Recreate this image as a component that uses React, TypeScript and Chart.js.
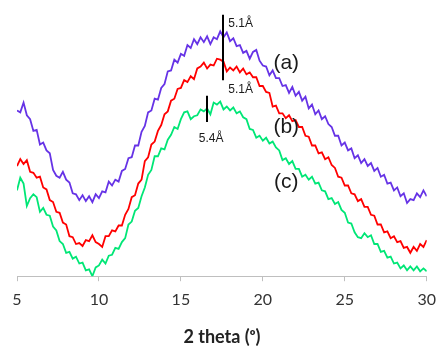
import { useEffect, useRef } from 'react';
import { Chart, registerables } from 'chart.js';

Chart.register(...registerables);

// 2θ sampling positions (degrees)
const twoTheta = [
  5, 5.2, 5.4, 5.6, 5.8, 6, 6.2, 6.4, 6.6, 6.8,
  7, 7.2, 7.4, 7.6, 7.8, 8, 8.2, 8.4, 8.6, 8.8,
  9, 9.2, 9.4, 9.6, 9.8, 10, 10.2, 10.4, 10.6, 10.8,
  11, 11.2, 11.4, 11.6, 11.8, 12, 12.2, 12.4, 12.6, 12.8,
  13, 13.2, 13.4, 13.6, 13.8, 14, 14.2, 14.4, 14.6, 14.8,
  15, 15.2, 15.4, 15.6, 15.8, 16, 16.2, 16.4, 16.6, 16.8,
  17, 17.2, 17.4, 17.6, 17.8, 18, 18.2, 18.4, 18.6, 18.8,
  19, 19.2, 19.4, 19.6, 19.8, 20, 20.2, 20.4, 20.6, 20.8,
  21, 21.2, 21.4, 21.6, 21.8, 22, 22.2, 22.4, 22.6, 22.8,
  23, 23.2, 23.4, 23.6, 23.8, 24, 24.2, 24.4, 24.6, 24.8,
  25, 25.2, 25.4, 25.6, 25.8, 26, 26.2, 26.4, 26.6, 26.8,
  27, 27.2, 27.4, 27.6, 27.8, 28, 28.2, 28.4, 28.6, 28.8,
  29, 29.2, 29.4, 29.6, 29.8, 30,
];

// Intensities (arbitrary units), curve (a) purple
const seriesA = [
  170, 168, 178, 165, 161, 149, 150, 135, 137, 129,
  126, 109, 103, 101, 107, 99, 96, 85, 84, 78,
  83, 77, 82, 76, 84, 80, 87, 86, 97, 93,
  99, 97, 108, 110, 121, 122, 134, 134, 148, 154,
  168, 170, 182, 181, 193, 197, 210, 211, 222, 219,
  228, 226, 237, 234, 243, 238, 245, 240, 246, 238,
  245, 243, 251, 245, 250, 241, 244, 236, 237, 229,
  231, 223, 230, 232, 221, 216, 215, 206, 211, 203,
  203, 195, 196, 188, 194, 185, 189, 180, 184, 172,
  176, 166, 170, 161, 164, 156, 153, 144, 144, 134,
  137, 129, 131, 121, 124, 116, 120, 113, 116, 108,
  111, 102, 104, 95, 96, 88, 91, 82, 85, 75,
  79, 78, 85, 81, 88, 82,
];

// curve (b) red
const seriesB = [
  113, 120, 115, 119, 107, 106, 101, 102, 91, 89,
  78, 76, 66, 65, 55, 53, 41, 40, 33, 34,
  31, 37, 36, 42, 35, 33, 30, 41, 41, 47,
  46, 52, 52, 63, 69, 81, 83, 95, 99, 118,
  122, 135, 138, 149, 155, 166, 169, 180, 182, 192,
  193, 201, 199, 205, 202, 213, 215, 219, 213, 217,
  216, 223, 222, 220, 210, 214, 211, 215, 209, 213,
  207, 209, 204, 204, 195, 195, 189, 188, 174, 175,
  167, 167, 162, 165, 159, 160, 153, 153, 144, 143,
  134, 134, 126, 127, 120, 122, 114, 111, 102, 101,
  93, 93, 85, 84, 77, 79, 71, 71, 63, 62,
  53, 53, 45, 46, 39, 41, 35, 36, 29, 30,
  24, 30, 26, 33, 30, 37,
];

// curve (c) green
const seriesC = [
  88, 101, 95, 72, 80, 84, 81, 66, 70, 63,
  62, 51, 47, 36, 33, 24, 25, 18, 20, 13,
  14, 6, 7, 0, 9, 11, 17, 13, 21, 22,
  29, 28, 35, 39, 53, 56, 67, 70, 82, 91,
  104, 109, 123, 123, 131, 130, 140, 145, 153, 151,
  161, 168, 169, 161, 164, 165, 171, 169, 172, 166,
  178, 176, 179, 171, 174, 170, 173, 167, 169, 163,
  161, 151, 150, 142, 144, 139, 142, 136, 138, 132,
  129, 119, 121, 115, 118, 110, 110, 102, 104, 99,
  102, 95, 96, 88, 87, 79, 80, 74, 76, 68,
  65, 55, 54, 45, 40, 39, 44, 40, 42, 33,
  33, 25, 26, 19, 20, 13, 14, 8, 11, 6,
  10, 6, 10, 5, 8, 5,
];

const xTicks = [5, 10, 15, 20, 25, 30];

// Peak marker bars: [2θ, top intensity, bottom intensity]
const peakMarkers = [
  { x: 17.6, top: 268, bottom: 201 },
  { x: 16.57, top: 185, bottom: 158 },
];

// d-spacing labels (left-anchored)
const spacingLabels = [
  { text: '5.1Å', x: 17.89, y: 259 },
  { text: '5.1Å', x: 17.89, y: 191 },
  { text: '5.4Å', x: 16.09, y: 141 },
];

// curve identifiers (centred)
const curveLabels = [
  { text: '(a)', x: 21.43, y: 218 },
  { text: '(b)', x: 21.43, y: 153 },
  { text: '(c)', x: 21.43, y: 96 },
];

const annotationPlugin = {
  id: 'xrdAnnotations',
  afterDatasetsDraw(chart: any) {
    const { ctx, scales } = chart;
    const xs = scales.x;
    const ys = scales.y;
    ctx.save();
    ctx.strokeStyle = '#000';
    ctx.lineWidth = 2;
    for (const m of peakMarkers) {
      const px = Math.round(xs.getPixelForValue(m.x));
      ctx.beginPath();
      ctx.moveTo(px, ys.getPixelForValue(m.top));
      ctx.lineTo(px, ys.getPixelForValue(m.bottom));
      ctx.stroke();
    }
    ctx.fillStyle = '#1a1a1a';
    ctx.textBaseline = 'middle';
    ctx.textAlign = 'left';
    ctx.font = '12px "Liberation Sans", Arial, sans-serif';
    for (const l of spacingLabels) {
      ctx.fillText(l.text, xs.getPixelForValue(l.x), ys.getPixelForValue(l.y));
    }
    ctx.textAlign = 'center';
    ctx.font = '21px "Liberation Sans", Arial, sans-serif';
    for (const l of curveLabels) {
      ctx.fillText(l.text, xs.getPixelForValue(l.x), ys.getPixelForValue(l.y));
    }
    ctx.restore();
  },
};

export default function App() {
  const canvasRef = useRef<HTMLCanvasElement | null>(null);

  useEffect(() => {
    const canvas = canvasRef.current;
    if (!canvas) return;
    const mk = (vals: number[]) => twoTheta.map((x, i) => ({ x, y: vals[i] }));
    const chart = new Chart(canvas, {
      type: 'line',
      data: {
        datasets: [
          { label: '(a)', data: mk(seriesA), borderColor: '#6633e6', borderWidth: 1.8, pointRadius: 0, tension: 0, fill: false },
          { label: '(b)', data: mk(seriesB), borderColor: '#ff0000', borderWidth: 1.8, pointRadius: 0, tension: 0, fill: false },
          { label: '(c)', data: mk(seriesC), borderColor: '#00e676', borderWidth: 1.8, pointRadius: 0, tension: 0, fill: false },
        ],
      },
      options: {
        responsive: false,
        animation: false,
        layout: { padding: { left: 17, right: 11, top: 8, bottom: 0 } },
        plugins: { legend: { display: false }, tooltip: { enabled: false } },
        scales: {
          x: {
            type: 'linear',
            min: 5,
            max: 30,
            afterBuildTicks: (scale: any) => {
              scale.ticks = xTicks.map((v) => ({ value: v }));
            },
            border: { display: true, color: '#bfbfbf', width: 1 },
            grid: { display: true, drawOnChartArea: false, drawTicks: true, tickLength: 5, color: '#bfbfbf' },
            ticks: { padding: 9, color: '#333', font: { family: 'Lato', size: 16 } },
            title: {
              display: true,
              text: '2 theta (ᵒ)',
              color: '#222',
              font: { family: 'Lato', size: 18, weight: 'bold' },
              padding: { top: 8, bottom: 0 },
            },
          },
          y: { display: false, min: 0, max: 275 },
        },
      },
      plugins: [annotationPlugin],
    } as any);
    return () => chart.destroy();
  }, []);

  return (
    <div style={{ position: 'fixed', left: 0, top: 0, width: 445, height: 348, background: '#fff' }}>
      <canvas ref={canvasRef} width={445} height={348} style={{ display: 'block' }} />
    </div>
  );
}
